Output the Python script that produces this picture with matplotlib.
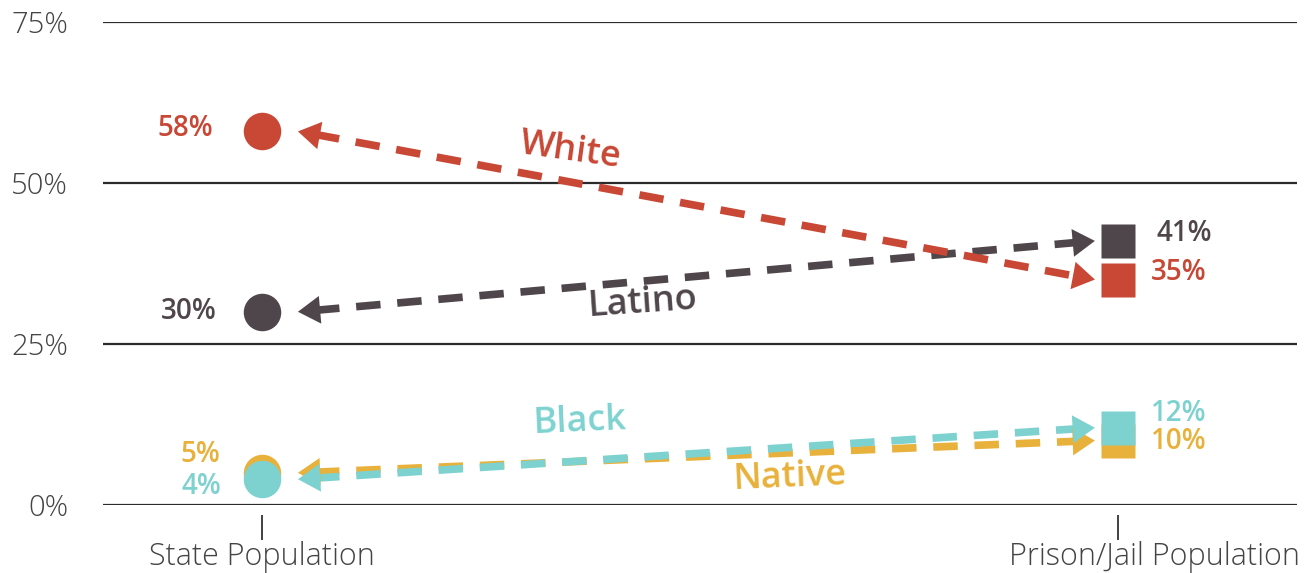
import matplotlib
matplotlib.use("Agg")
import matplotlib.pyplot as plt
import matplotlib.transforms as mtransforms
import numpy as np

plt.rcParams['font.family'] = ['Open Sans', 'DejaVu Sans']

# Data
groups = ["White", "Latino", "Black", "Native"]
state_pct = [58, 30, 4, 5]
prison_pct = [35, 41, 12, 10]
categories = ["State Population", "Prison/Jail Population"]
yticks = [0, 25, 50, 75]

colors = {"White": "#C84735", "Latino": "#4F464B", "Black": "#7DD2D0", "Native": "#E8B13B"}

# label positions (group label x, y, rotation) and pct label offsets in points
name_pos = {"White": (0.36, 55.0, -8), "Latino": (0.445, 31.3, 4),
            "Black": (0.371, 12.9, 2.5), "Native": (0.617, 4.3, 2.5)}
left_off = {"White": (-35, 2), "Latino": (-33, 0), "Black": (-29, -5), "Native": (-30, 13)}
right_off = {"White": (24, 5), "Latino": (28, 5), "Black": (24, 10), "Native": (24, -1)}

fig = plt.figure(figsize=(13.14, 5.73), dpi=100)
ax = fig.add_axes([0.0784, 0.1187, 0.9086, 0.843])
for s in ax.spines.values():
    s.set_visible(False)
ax.spines["bottom"].set_position(("outward", 7))
ax.set_xlim(-0.1857, 1.209)
ax.set_ylim(0, 75)

for y in yticks:
    ax.axhline(y, color="#2b2b2b", lw=1.6, zorder=1)

x0, x1 = 0, 1
draw_order = ["Latino", "White", "Native", "Black"]
for g in draw_order:
    i = groups.index(g)
    c = colors[g]
    ys, yp = state_pct[i], prison_pct[i]
    tipL = (x0 + 0.042, ys)
    tipR = (x1 - 0.027, yp)
    ax.plot([tipL[0] + 0.02, tipR[0] - 0.02], [ys + (yp - ys) * 0.02, yp - (yp - ys) * 0.02],
            color=c, lw=5.5, dashes=(3.2, 2.2), dash_capstyle="butt", zorder=3)
    for tip, other in [(tipL, tipR), (tipR, tipL)]:
        back = (tip[0] + (other[0] - tip[0]) * 0.03, tip[1] + (other[1] - tip[1]) * 0.03)
        ax.annotate("", xy=tip, xytext=back,
                    arrowprops=dict(arrowstyle="-|>,head_length=0.8,head_width=0.5",
                                    mutation_scale=20, color=c, lw=0,
                                    shrinkA=0, shrinkB=0), zorder=4)
    ax.plot([x0], [ys], marker="o", ms=27, color=c, mec="none", zorder=5)
    ax.plot([x1], [yp], marker="s", ms=25, color=c, mec="none", zorder=5)
    ax.annotate(f"{ys}%", xy=(x0, ys), xytext=left_off[g], textcoords="offset points",
                ha="right", va="center", fontsize=20, fontweight="semibold", color=c)
    ax.annotate(f"{yp}%", xy=(x1, yp), xytext=right_off[g], textcoords="offset points",
                ha="left", va="center", fontsize=20, fontweight="semibold", color=c)
    nx, ny, rot = name_pos[g]
    ax.text(nx, ny, g, ha="center", va="center", rotation=rot, fontsize=26,
            fontweight="semibold", color=c)

ax.set_yticks(yticks)
ax.set_yticklabels([f"{y}%" for y in yticks], fontsize=21, color="#444444", fontweight="light")
ax.tick_params(axis="y", length=0, pad=25)
ax.set_xticks([x0, x1])
ax.set_xticklabels(categories, fontsize=22, color="#444444", fontweight="light")
ax.tick_params(axis="x", length=18, width=1.3, color="#333333", pad=1)
# the right category label sits a little right of its tick so it stays inside the figure
lbl = ax.get_xticklabels()[1]
lbl.set_transform(lbl.get_transform() + mtransforms.ScaledTranslation(0.36, 0, fig.dpi_scale_trans))

fig.savefig("out.png", dpi=100)
